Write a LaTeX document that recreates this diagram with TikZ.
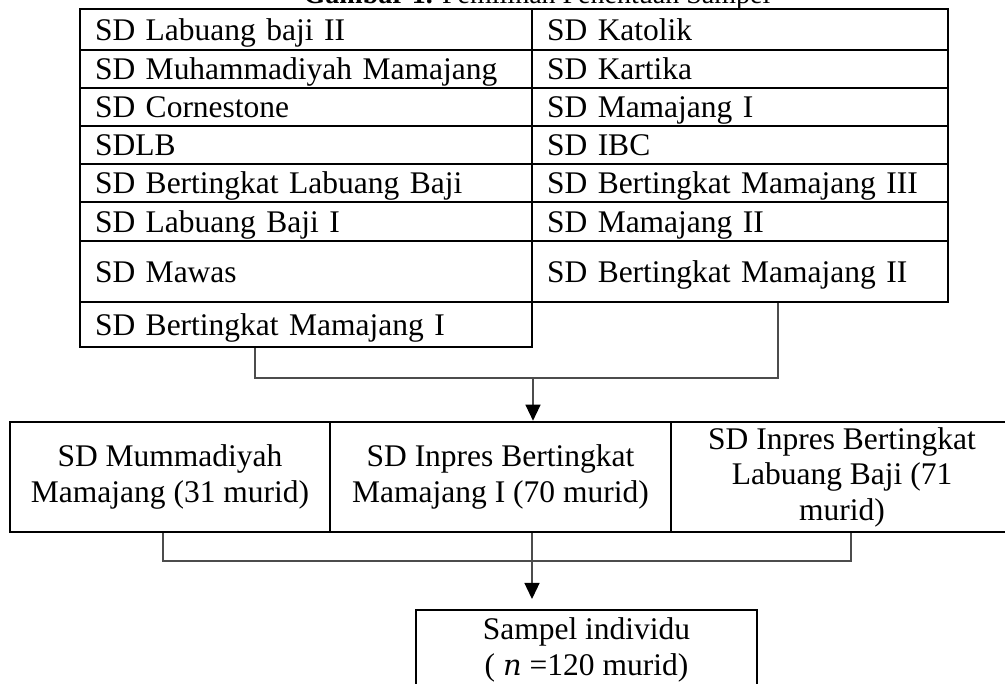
\documentclass[tikz,border=0pt]{standalone}
\usepackage{fontspec}
\setmainfont{Liberation Serif}
\newfontfamily\nfont{DejaVu Serif}
\usetikzlibrary{arrows.meta}
\tikzset{
  cell/.style={draw, line width=2.5pt, inner xsep=15pt, inner ysep=0pt, align=left,
    text height=24pt, text depth=2pt, font=\fontsize{31.5}{36}\selectfont},
  leftcell/.style={cell, text width=422pt},
  rightcell/.style={cell, text width=386pt},
  box/.style={draw, line width=2.6pt, inner sep=0pt, align=center,
    font=\fontsize{31.5}{35.5}\selectfont},
  conn/.style={draw=black!70, line width=1.3pt},
  arr/.style={conn, -{Triangle[width=15pt,length=16pt,color=black]}}
}
\begin{document}
\begin{tikzpicture}[x=1pt,y=-1pt]
\useasboundingbox (0,0) rectangle (1005,684);
% title (partly cut off at top, as in the reference)
\node[anchor=base, inner sep=0pt, font=\fontsize{28}{32}\selectfont] (title) at (537,4)
  {\textbf{Gambar 1.} Pemilihan Penentuan Sampel};
% left column
\node[leftcell, minimum height=41pt] (L1) at (306,29.5) {SD Labuang baji II};
\node[leftcell, minimum height=38pt] (L2) at (306,69) {SD Muhammadiyah Mamajang};
\node[leftcell, minimum height=38pt] (L3) at (306,107) {SD Cornestone};
\node[leftcell, minimum height=38pt] (L4) at (306,145) {SDLB};
\node[leftcell, minimum height=38pt] (L5) at (306,183) {SD Bertingkat Labuang Baji};
\node[leftcell, minimum height=39pt] (L6) at (306,221.5) {SD Labuang Baji I};
\node[leftcell, minimum height=61pt] (L7) at (306,271.5) {SD Mawas};
\node[leftcell, minimum height=45pt] (L8) at (306,324.5) {SD Bertingkat Mamajang I};
% right column
\node[rightcell, minimum height=41pt] (R1) at (740,29.5) {SD Katolik};
\node[rightcell, minimum height=38pt] (R2) at (740,69) {SD Kartika};
\node[rightcell, minimum height=38pt] (R3) at (740,107) {SD Mamajang I};
\node[rightcell, minimum height=38pt] (R4) at (740,145) {SD IBC};
\node[rightcell, minimum height=38pt] (R5) at (740,183) {SD Bertingkat Mamajang III};
\node[rightcell, minimum height=39pt] (R6) at (740,221.5) {SD Mamajang II};
\node[rightcell, minimum height=61pt] (R7) at (740,271.5) {SD Bertingkat Mamajang II};
% middle row
\node[box, minimum width=320pt, minimum height=110pt] (M1) at (170,477)
  {SD Mummadiyah\\Mamajang (31 murid)};
\node[box, minimum width=341pt, minimum height=110pt] (M2) at (500.5,477)
  {SD Inpres Bertingkat\\Mamajang I (70 murid)};
\node[box, minimum width=342pt, minimum height=110pt] (M3) at (842,477)
  {SD Inpres Bertingkat\\Labuang Baji (71\\murid)};
% bottom box
\node[box, minimum width=341pt, minimum height=80pt] (S) at (586.5,650)
  {Sampel individu\\( {\nfont\itshape\fontsize{29}{35}\selectfont n} =120 murid)};
% connectors top
\coordinate (t1) at (255,378);
\coordinate (t2) at (778,378);
\coordinate (j1) at (533,378);
\draw[conn] (L8.south -| t1) -- (t1) -- (t2) -- (R7.south -| t2);
\draw[arr] (j1) -- (j1 |- M2.north);
% connectors bottom
\coordinate (b1) at (163,561);
\coordinate (b2) at (851,561);
\coordinate (j2) at (532,561);
\coordinate (tip) at (532,599);
\draw[conn] (M1.south -| b1) -- (b1) -- (b2) -- (M3.south -| b2);
\draw[arr] (M2.south -| j2) -- (tip);
\end{tikzpicture}
\end{document}
